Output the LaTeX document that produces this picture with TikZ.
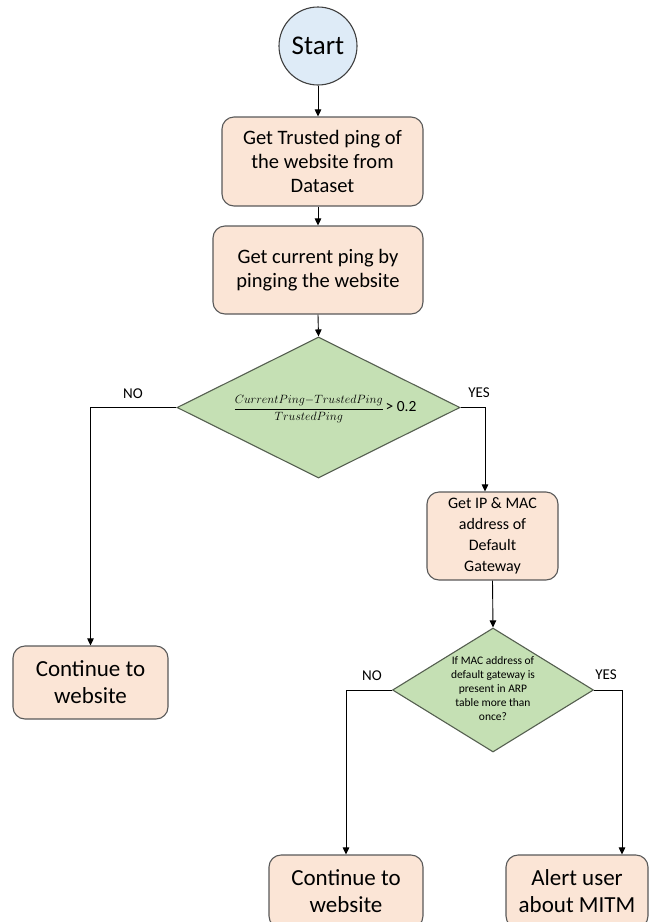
\documentclass[tikz,border=0pt]{standalone}
\usepackage{fontspec}
\setmainfont{Carlito}
\usetikzlibrary{shapes.geometric,arrows.meta}
\definecolor{boxfill}{HTML}{FBE5D6}
\definecolor{boxdraw}{HTML}{595959}
\definecolor{dfill}{HTML}{C5E0B4}
\definecolor{ddraw}{HTML}{555F50}
\definecolor{sfill}{HTML}{DEEBF7}
\definecolor{sdraw}{HTML}{404040}
\tikzset{
  procbox/.style={draw=boxdraw, fill=boxfill, line width=1.1pt, rounded corners=12pt, align=center, inner sep=0pt},
  decbox/.style={draw=ddraw, fill=dfill, line width=1.1pt, diamond, inner sep=0pt},
  startbox/.style={draw=sdraw, fill=sfill, line width=1.1pt, circle, inner sep=0pt},
  arr/.style={draw=black, line width=0.9pt, -{Triangle[length=7pt,width=6.5pt]}},
  lbl/.style={font=\fontsize{15}{18}\selectfont, inner sep=0pt},
  bigtxt/.style={font=\fontsize{20.5}{24}\selectfont},
}
\begin{document}
\begin{tikzpicture}[x=1pt,y=-1pt]
\useasboundingbox (0,0) rectangle (650,922);
\clip (0,0) rectangle (650,922);
\node[startbox, minimum size=78pt, font=\fontsize{27}{30}\selectfont] (start) at (318,46) {Start};
\node[procbox, bigtxt, minimum width=201pt, minimum height=89pt] (b1) at (322.5,161.5) {Get Trusted ping of\\the website from\\Dataset};
\node[procbox, bigtxt, minimum width=210pt, minimum height=88pt] (b2) at (318,270) {Get current ping by\\pinging the website};
\node[decbox, minimum width=283pt, minimum height=141pt] (d1) at (318.5,407.5) {};
\node[inner sep=0pt] (d1t) at (325,409) {{\fontsize{12}{15}\selectfont$\displaystyle\frac{CurrentPing{-}TrustedPing}{TrustedPing}$}\,{\fontsize{15.5}{18}\selectfont> 0.2}};
\node[procbox, minimum width=131pt, minimum height=88pt, font=\fontsize{16}{21}\selectfont] (b3) at (492.5,536) {Get IP \& MAC\\address of\\Default\\Gateway};
\node[decbox, minimum width=201pt, minimum height=124pt] (d2) at (493,690) {};
\node[align=center, inner sep=0pt, font=\fontsize{11.5}{14}\selectfont] (d2t) at (493,689) {If MAC address of\\default gateway is\\present in ARP\\table more than\\once?};
\node[procbox, minimum width=155pt, minimum height=73pt, font=\fontsize{23}{27}\selectfont] (c1) at (90.5,682.5) {Continue to\\website};
\node[procbox, minimum width=154pt, minimum height=73pt, font=\fontsize{23}{27}\selectfont] (c2) at (346,891.5) {Continue to\\website};
\node[procbox, minimum width=142pt, minimum height=73pt, font=\fontsize{23}{27}\selectfont] (c3) at (577,891.5) {Alert user\\about MITM};
\node[lbl] (no1) at (133,394) {NO};
\node[lbl] (yes1) at (479,393) {YES};
\node[lbl] (no2) at (372,676) {NO};
\node[lbl] (yes2) at (606,675) {YES};
\draw[arr] (start.south) -- (start.south |- b1.north);
\draw[arr] (b1.south -| start.south) -- (b2.north -| start.south);
\draw[arr] (b2.south) -- (d1.north);
\draw[arr] (d1.west) -| (c1.north);
\draw[arr] (d1.east) -| ([xshift=-7.5pt]b3.north);
\draw[arr] (b3.south) -- (d2.north);
\draw[arr] (d2.west) -| (c2.north);
\draw[arr] (d2.east) -| ([xshift=45pt]c3.north);
\end{tikzpicture}
\end{document}
